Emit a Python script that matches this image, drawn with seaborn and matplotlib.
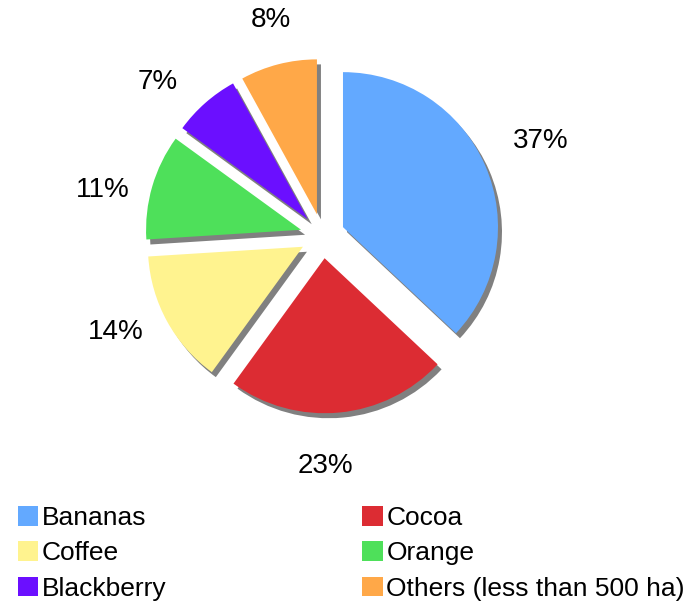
import matplotlib
matplotlib.use("Agg")
import matplotlib.pyplot as plt
import seaborn as sns

categories = ["Bananas", "Cocoa", "Coffee", "Orange", "Blackberry", "Others (less than 500 ha)"]
values = [37, 23, 14, 11, 7, 8]
colors = ["#63A9FF", "#DC2C33", "#FFF38F", "#4EE05A", "#6B0FFF", "#FFA848"]

sns.set_theme(style="white")
plt.rcParams["font.family"] = ["Liberation Sans", "DejaVu Sans"]
plt.rcParams["text.color"] = "black"

W, H = 689, 605
fig = plt.figure(figsize=(W / 100, H / 100), dpi=100)
ax = fig.add_axes([0, 0, 1, 1])

R = 155.0
cx, cy = 322.5, 236.0
explode = [0.144] * len(values)

# shadow pie
ax.pie(values, explode=explode, colors=["#808080"] * len(values), startangle=90,
       counterclock=False, radius=1.0, center=(4 / R, -5 / R),
       wedgeprops=dict(linewidth=0), frame=True)
# main pie
wedges, texts, autotexts = ax.pie(
    values, explode=explode, colors=colors, startangle=90, counterclock=False,
    radius=1.0, center=(0, 0), autopct="%1.0f%%", pctdistance=1.32,
    wedgeprops=dict(linewidth=0), textprops=dict(fontsize=20, color="black"),
    frame=True)

# small per-label nudges (pixels) to mimic the reference label placement
nudges = [(10, 5), (-18, -4), (-8, 13), (-2, -17), (-15, -16), (5, -4)]
for t, (dx, dy) in zip(autotexts, nudges):
    x, y = t.get_position()
    t.set_position((x + dx / R, y + dy / R))

ax.set_xlim(-cx / R, (W - cx) / R)
ax.set_ylim((cy - H) / R, cy / R)
ax.set_aspect("auto")
ax.axis("off")

order = [0, 2, 4, 1, 3, 5]
leg = fig.legend([wedges[i] for i in order], [categories[i] for i in order],
                 loc="upper left", bbox_to_anchor=(18 / W, 1 - 506 / H),
                 ncol=2, frameon=False, fontsize=19, borderpad=0,
                 handlelength=0.76, handleheight=0.76, handletextpad=0.15,
                 labelspacing=0.43, columnspacing=7.42, borderaxespad=0,
                 labelcolor="black")

fig.savefig("out.png", dpi=100)
